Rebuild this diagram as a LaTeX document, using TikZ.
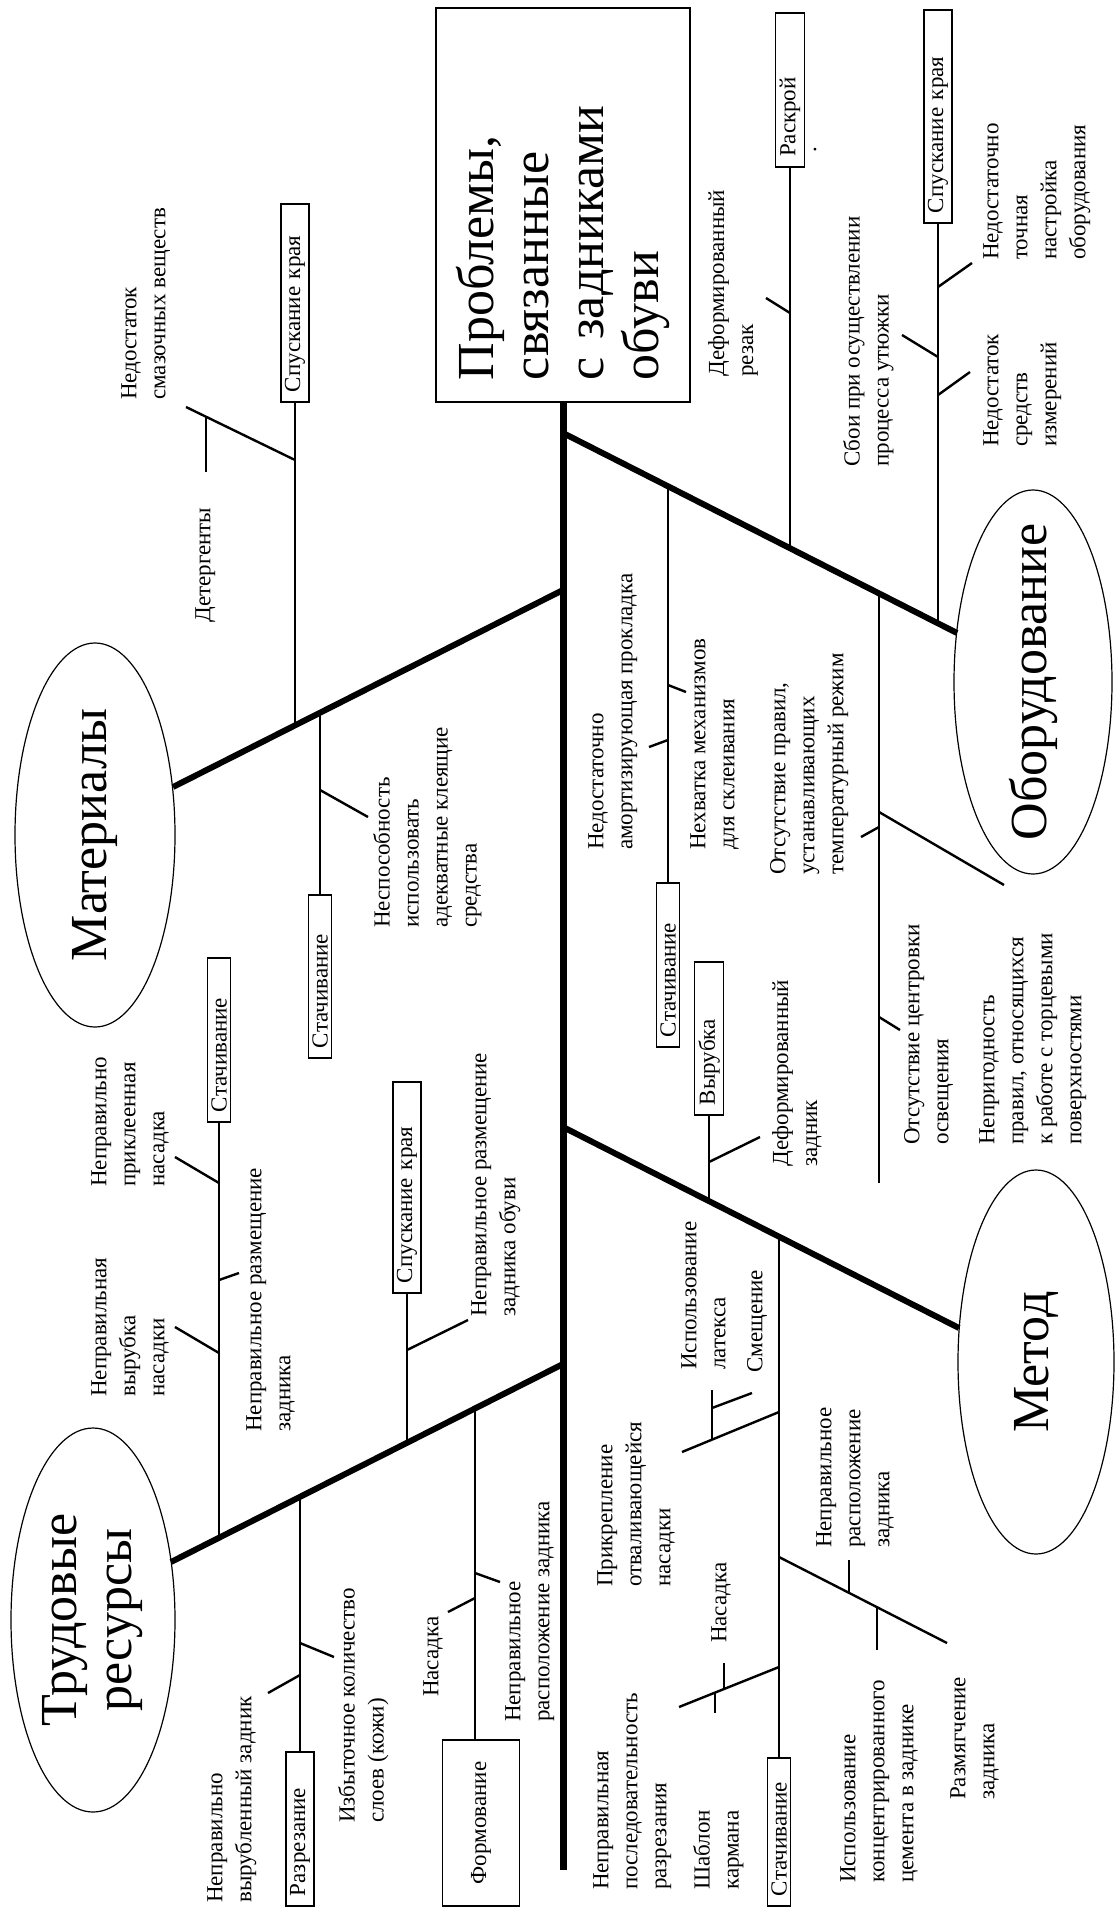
\documentclass[tikz,border=0pt]{standalone}
\usepackage{fontspec}
\setmainfont{Liberation Serif}
\usetikzlibrary{shapes.geometric}
\usetikzlibrary{calc}

\newcommand{\lblfnt}{\fontsize{23}{29}\selectfont}
\newcommand{\catfnt}{\fontsize{52}{55}\selectfont}

\begin{document}
\begin{tikzpicture}[x=1pt, y=-1pt,
    spine/.style={line width=7pt},
    bone/.style={line width=6pt},
    branch/.style={line width=2.8pt},
    twig/.style={line width=2.4pt},
    lbl/.style={rotate=90, anchor=north west, align=left, inner sep=0pt, font=\lblfnt},
    stage/.style={rotate=90, draw, line width=1.5pt, inner xsep=10pt, inner ysep=4pt, align=left, font=\lblfnt, text width=#1},
    cat/.style={rotate=90, draw, ellipse, line width=1.2pt, inner sep=0pt, minimum width=384pt, minimum height=#1},
    catlbl/.style={rotate=90, align=center, inner sep=0pt, font=\catfnt}]

      \useasboundingbox (0,0) rectangle (1114,1908);

      % Head of the fish
      \node[draw, rotate=90, line width=1.5pt, minimum width=394pt, minimum height=254pt,
            text width=350pt, inner xsep=22pt, align=left, font=\catfnt] (title) at (563,205)
            {Проблемы,\\связанные\\с задниками\\обуви};

      % Spine
      \coordinate (tail) at (563,1870);
      \draw[spine] (title.west) -- (tail);

      % ---------------- Materials ----------------
      \node[cat=160pt] (mat) at (95,835) {};
      \node[catlbl] (matT) at (mat) {Материалы};
      \coordinate (jmat) at (563,590);
      \coordinate (matE) at (173,787);
      \draw[bone] (jmat) -- (matE);

      \node[stage=178pt] (msk) at (295,303) {Спускание края};
      \node[stage=143pt] (mst) at (320,976.5) {Стачивание};

      \coordinate (mj1) at (295,725.4);
      \coordinate (mj2) at (320,712.7);
      \draw[branch] (mj1) -- (mj1 |- msk.west);
      \draw[branch] (mj2) -- (mj2 |- mst.east);

      \coordinate (mt1a) at (295,460);   \coordinate (mt1b) at (186,407);
      \coordinate (mt2a) at (206,416.7); \coordinate (mt2b) at (206,472);
      \coordinate (mt3a) at (320,790);   \coordinate (mt3b) at (368,817);
      \draw[twig] (mt1a) -- (mt1b);
      \draw[twig] (mt2a) -- (mt2b);
      \draw[twig] (mt3a) -- (mt3b);

      \node[lbl] (lubr) at (121,400) {Недостаток\\смазочных веществ};
      \node[lbl] (deterg) at (195,623) {Детергенты};
      \node[lbl] (glue) at (373,928) {Неспособность\\использовать\\адекватные клеящие\\средства};

      % ---------------- Labour ----------------
      \node[cat=164pt] (lab) at (93,1620) {};
      \node[catlbl] (labT) at (lab) {Трудовые\\ресурсы};
      \coordinate (jlab) at (563,1364);
      \coordinate (labE) at (171,1562);
      \draw[bone] (jlab) -- (labE);

      \node[stage=144pt] (lst) at (219,1040) {Стачивание};
      \node[stage=191pt] (lsk) at (407,1187.5) {Спускание края};
      \node[stage=134pt] (lrz) at (300,1829) {Разрезание};
      \node[stage=146pt, minimum height=77pt, align=center] (lfm) at (481,1823) {Формование};

      \coordinate (lj1) at (219,1537.8);
      \coordinate (lj2) at (407,1442.8);
      \coordinate (lj3) at (300,1496.8);
      \coordinate (lj4) at (475,1408.4);
      \draw[branch] (lj1) -- (lj1 |- lst.west);
      \draw[branch] (lj2) -- (lj2 |- lsk.west);
      \draw[branch] (lj3) -- (lj3 |- lrz.east);
      \draw[branch] (lj4) -- (lj4 |- lfm.east);

      \coordinate (lt1a) at (219,1183); \coordinate (lt1b) at (175,1157);
      \coordinate (lt2a) at (219,1280); \coordinate (lt2b) at (239,1273);
      \coordinate (lt3a) at (219,1353); \coordinate (lt3b) at (175,1327);
      \coordinate (lt4a) at (407,1350); \coordinate (lt4b) at (468,1320);
      \coordinate (lt5a) at (300,1643); \coordinate (lt5b) at (334,1657);
      \coordinate (lt6a) at (300,1675); \coordinate (lt6b) at (268,1693);
      \coordinate (lt7a) at (475,1573); \coordinate (lt7b) at (500,1582);
      \coordinate (lt8a) at (475,1598); \coordinate (lt8b) at (448,1612);
      \foreach \t in {lt1,lt2,lt3,lt4,lt5,lt6,lt7,lt8}
        \draw[twig] (\t a) -- (\t b);

      \node[lbl] (glued) at (91,1187) {Неправильно\\приклеенная\\насадка};
      \node[lbl] (cutnas) at (91,1397) {Неправильная\\вырубка\\насадки};
      \node[lbl] (place1) at (246,1432) {Неправильное размещение\\задника};
      \node[lbl] (place2) at (471,1317) {Неправильное размещение\\задника обуви};
      \node[lbl] (badcut) at (207,1903) {Неправильно\\вырубленный задник};
      \node[lbl] (layers) at (338,1823) {Избыточное количество\\слоев (кожи)};
      \node[lbl] (nas1) at (423,1697) {Насадка};
      \node[lbl] (place3) at (505,1722) {Неправильное\\расположение задника};

      % ---------------- Equipment ----------------
      \node[cat=158pt] (equ) at (1033,682) {};
      \node[catlbl] (equT) at (equ) {Оборудование};
      \coordinate (jeq) at (563,433);
      \coordinate (eqE) at (957,633);
      \draw[bone] (jeq) -- (eqE);

      \node[stage=134pt] (erk) at (790,90) {Раскрой};
      \node[stage=193pt] (esk) at (938,116.5) {Спускание края};
      \node[stage=144pt] (est) at (668,965) {Стачивание};
      \node[rotate=90, inner sep=0pt, font=\lblfnt] (dot) at (815,150) {.};

      \coordinate (ej1) at (790,548.2);
      \coordinate (ej2) at (938,623.4);
      \coordinate (ej3) at (668,486.3);
      \coordinate (ej4) at (879,593.4);
      \coordinate (ee4) at (879,1183);
      \draw[branch] (ej1) -- (ej1 |- erk.west);
      \draw[branch] (ej2) -- (ej2 |- esk.west);
      \draw[branch] (ej3) -- (ej3 |- est.east);
      \draw[branch] (ej4) -- (ee4);

      \coordinate (et1a) at (790,313);  \coordinate (et1b) at (766,298);
      \coordinate (et2a) at (938,287);  \coordinate (et2b) at (972,263);
      \coordinate (et3a) at (938,357);  \coordinate (et3b) at (902,335);
      \coordinate (et4a) at (938,395);  \coordinate (et4b) at (970,372);
      \coordinate (et5a) at (668,685);  \coordinate (et5b) at (686,692);
      \coordinate (et6a) at (668,740);  \coordinate (et6b) at (649,747);
      \coordinate (et7a) at (879,812);  \coordinate (et7b) at (1004,885);
      \coordinate (et8a) at (879,827);  \coordinate (et8b) at (861,837);
      \coordinate (et9a) at (879,1017); \coordinate (et9b) at (900,1030);
      \foreach \t in {et1,et2,et3,et4,et5,et6,et7,et8,et9}
        \draw[twig] (\t a) -- (\t b);

      \node[lbl] (rezak) at (708,377) {Деформированный\\резак};
      \node[lbl] (iron) at (843,467) {Сбои при осуществлении\\процесса утюжки};
      \node[lbl] (tune) at (983,260) {Недостаточно\\точная\\настройка\\оборудования};
      \node[lbl] (meas) at (983,447) {Недостаток\\средств\\измерений};
      \node[lbl] (pad) at (588,850) {Недостаточно\\амортизирующая прокладка};
      \node[lbl] (mech) at (690,850) {Нехватка механизмов\\для склеивания};
      \node[lbl] (temp) at (770,875) {Отсутствие правил,\\устанавливающих\\температурный режим};
      \node[lbl] (light) at (904,1145) {Отсутствие центровки\\освещения};
      \node[lbl] (edge) at (979,1145) {Непригодность\\правил, относящихся\\к работе с торцевыми\\поверхностями};

      % ---------------- Method ----------------
      \node[cat=156pt] (met) at (1036,1362) {};
      \node[catlbl] (metT) at (met) {Метод};
      \coordinate (jmet) at (563,1127);
      \coordinate (metE) at (959,1328);
      \draw[bone] (jmet) -- (metE);

      \node[stage=133pt] (mvr) at (709,1038.5) {Вырубка};
      \node[stage=128pt] (mst2) at (779,1832) {Стачивание};

      \coordinate (tj1) at (709,1201.1);
      \coordinate (tj2) at (779,1236.6);
      \draw[branch] (tj1) -- (tj1 |- mvr.west);
      \draw[branch] (tj2) -- (tj2 |- mst2.east);

      \coordinate (tt1a) at (709,1162);    \coordinate (tt1b) at (760,1137);
      \coordinate (tt2a) at (779,1412);    \coordinate (tt2b) at (682,1452);
      \coordinate (tt3a) at (712,1439.6);  \coordinate (tt3b) at (712,1390);
      \coordinate (tt4a) at (712,1408);    \coordinate (tt4b) at (752,1393);
      \coordinate (tt5a) at (779,1667);    \coordinate (tt5b) at (679,1707);
      \coordinate (tt6a) at (724,1689);    \coordinate (tt6b) at (724,1663);
      \coordinate (tt7a) at (715,1692.6);  \coordinate (tt7b) at (715,1713);
      \coordinate (tt8a) at (779,1557);    \coordinate (tt8b) at (947,1643);
      \coordinate (tt9a) at (849,1592.8);  \coordinate (tt9b) at (849,1560);
      \coordinate (tt10a) at (877,1607.2); \coordinate (tt10b) at (877,1650);
      \foreach \t in {tt1,tt2,tt3,tt4,tt5,tt6,tt7,tt8,tt9,tt10}
        \draw[twig] (\t a) -- (\t b);

      \node[lbl] (defz) at (772,1167) {Деформированный\\задник};
      \node[lbl] (latex) at (681,1370) {Использование\\латекса};
      \node[lbl] (shift) at (747,1373) {Смещение};
      \node[lbl] (attach) at (597,1587) {Прикрепление\\отваливающейся\\насадки};
      \node[lbl] (nas2) at (711,1643) {Насадка};
      \node[lbl] (order) at (593,1890) {Неправильная\\последовательность\\разрезания};
      \node[lbl] (pocket) at (693,1890) {Шаблон\\кармана};
      \node[lbl] (place4) at (816,1548) {Неправильное\\расположение\\задника};
      \node[lbl] (cement) at (840,1883) {Использование\\концентрированного\\цемента в заднике};
      \node[lbl] (soft) at (950,1800) {Размягчение\\задника};

    \end{tikzpicture}
\end{document}
